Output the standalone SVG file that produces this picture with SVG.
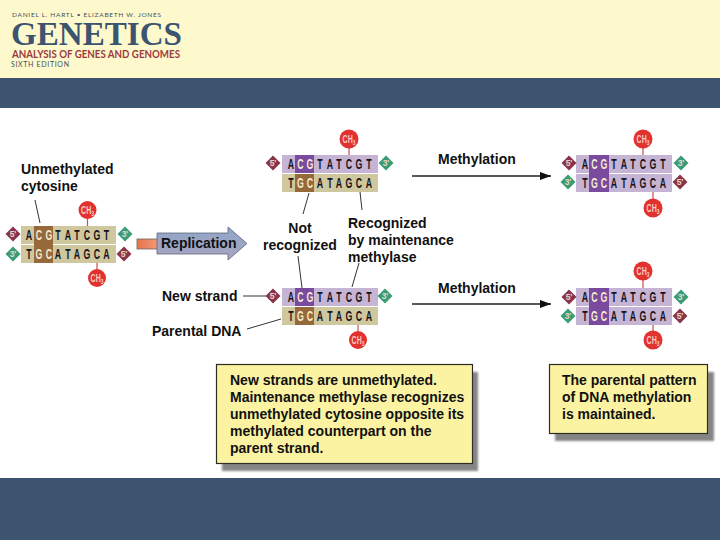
<svg xmlns="http://www.w3.org/2000/svg" width="720" height="540" viewBox="0 0 720 540">
<style>
.lb{font:bold 14px "Liberation Sans",Arial,sans-serif;fill:#111}
.bs{font:bold 14px "Liberation Sans",sans-serif;fill:#16131c;text-anchor:middle}
.hl{fill:#f4ead0}
.ch{font:bold 10px "Liberation Sans",sans-serif;fill:#f8cfc0;text-anchor:middle}
.ch .s{font-size:7px}
.pr{font:bold 8.5px "Liberation Sans",sans-serif;fill:#e8d8c8;text-anchor:middle}
.r{fill:#8a3349}.g{fill:#3a9c74}
.pu{fill:#c6b4d4}.pd{fill:#7a4a9e}.ta{fill:#cfc79e}.br{fill:#96693a}
.ln{stroke:#333;stroke-width:1;fill:none}
.cl{stroke:#c9504a;stroke-width:1.2;fill:none}
.red{fill:#e2322f}
.box{fill:#fbf3a2;stroke:#2c2c24;stroke-width:1.2}
.sh{fill:#858585;filter:url(#b)}
.hd{font-family:"Liberation Serif",serif}
.hs{font-family:Lato,"Liberation Sans",sans-serif}
</style>
<defs>
<filter id="b" x="-5%" y="-10%" width="110%" height="120%"><feGaussianBlur stdDeviation="1"/></filter>
<linearGradient id="rg" x1="0" y1="0" x2="0" y2="1"><stop offset="0" stop-color="#8fa6c8"/><stop offset="1" stop-color="#a9a4c0"/></linearGradient>
<linearGradient id="og" x1="0" y1="0" x2="1" y2="0"><stop offset="0" stop-color="#e8744c"/><stop offset="1" stop-color="#f09a78"/></linearGradient>
<marker id="ah" markerUnits="userSpaceOnUse" markerWidth="11" markerHeight="8" refX="11" refY="4" orient="auto"><path d="M0 0L11 4L0 8Z" fill="#111"/></marker>
<path id="d" d="M0-7.5L7.5 0L0 7.5L-7.5 0Z"/>
</defs>

<rect width="720" height="540" fill="#fff"/>
<g id="header">
<rect width="720" height="78" fill="#fdf9cc"/>
<rect y="78" width="720" height="30" fill="#3c5470"/>
<text class="hs" x="12" y="17" font-size="6.500" fill="#45505c" textLength="149">DANIEL L. HARTL • ELIZABETH W. JONES</text>
<text class="hd" x="11" y="45" font-size="33" font-weight="bold" fill="#3c5470" textLength="171" lengthAdjust="spacingAndGlyphs">GENETICS</text>
<text class="hs" x="12" y="57.500" font-size="10.500" font-weight="bold" fill="#9c3b3e" textLength="168" lengthAdjust="spacingAndGlyphs">ANALYSIS OF GENES AND GENOMES</text>
<text class="hs" x="11" y="66.500" font-size="7" fill="#45505c" textLength="58">SIXTH EDITION</text>
</g>
<rect id="footer" y="478" width="720" height="62" fill="#3c5470"/>

<g id="connectors">
<path class="ln" d="M35 200L40 223M309 193L303 214M360 192L362 210M298 256L302 288M359 263L352 287M243 296H266M247 329L281 319"/>
<path d="M412 176H551" stroke="#222" stroke-width="1.3" marker-end="url(#ah)"/>
<path d="M412 304H551" stroke="#222" stroke-width="1.3" marker-end="url(#ah)"/>
</g>

<g id="dna-unmethylated">
<rect class="ta" x="21" y="226" width="95" height="18"/><rect class="ta" x="21" y="245" width="95" height="18"/>
<rect class="br" x="34" y="226" width="19" height="37"/>
<path class="cl" d="M87.500 215V226M97 263V274"/>
<circle class="red" cx="87.500" cy="210" r="9"/><circle class="red" cx="97" cy="278" r="9"/>
<text class="ch" transform="translate(87.500 213.500) scale(.7 1)">CH<tspan class="s" dy="2">3</tspan></text>
<text class="ch" transform="translate(97 281.500) scale(.7 1)">CH<tspan class="s" dy="2">3</tspan></text>
<g transform="scale(.625 1)">
<text class="bs" x="46.400 62.400 78.400 92.800 108.800 123.200 139.200 155.200 170.400" y="240">A<tspan class="hl">CG</tspan>TATCGT</text>
<text class="bs" x="46.400 62.400 78.400 92.800 108.800 123.200 139.200 155.200 170.400" y="259">T<tspan class="hl">GC</tspan>ATAGCA</text>
</g>
<use href="#d" class="r" x="13" y="234"/><use href="#d" class="g" x="125" y="234"/><use href="#d" class="g" x="13" y="254"/><use href="#d" class="r" x="124" y="254"/>
<text class="pr" x="13" y="237">5'</text><text class="pr" x="125" y="237">3'</text><text class="pr" x="13" y="257">3'</text><text class="pr" x="124" y="257">5'</text>
</g>

<g id="replication">
<rect x="137" y="239" width="21" height="10" fill="url(#og)" stroke="#666" stroke-width=".8"/>
<path d="M157 233H228V227L247 243.500L228 260V254H157Z" fill="url(#rg)" stroke="#5b6478" stroke-width=".8"/>
<text class="lb" x="161" y="248">Replication</text>
</g>

<g id="dna-top">
<rect class="pu" x="282" y="155" width="96" height="18"/><rect class="ta" x="282" y="174" width="96" height="18"/>
<rect class="pd" x="295" y="155" width="19" height="18"/><rect class="br" x="295" y="174" width="19" height="18"/>
<path class="cl" d="M349 144V155"/><circle class="red" cx="349" cy="139" r="9.500"/>
<text class="ch" transform="translate(349 142.500) scale(.7 1)">CH<tspan class="s" dy="2">3</tspan></text>
<g transform="scale(.625 1)">
<text class="bs" x="465.600 480.800 496 512 528 542.400 558.400 574.400 590.400" y="169">A<tspan class="hl">CG</tspan>TATCGT</text>
<text class="bs" x="465.600 480.800 496 512 528 542.400 558.400 574.400 590.400" y="188">T<tspan class="hl">GC</tspan>ATAGCA</text>
</g>
<use href="#d" class="r" x="273" y="163"/><use href="#d" class="g" x="386" y="163"/>
<text class="pr" x="273" y="166">5'</text><text class="pr" x="386" y="166">3'</text>
</g>

<g id="dna-bottom">
<rect class="pu" x="282" y="288" width="96" height="18"/><rect class="ta" x="282" y="307" width="96" height="18"/>
<rect class="pd" x="295" y="288" width="19" height="18"/><rect class="br" x="295" y="307" width="19" height="18"/>
<path class="cl" d="M358 325V335"/><circle class="red" cx="358" cy="340" r="9"/>
<text class="ch" transform="translate(358 343.500) scale(.7 1)">CH<tspan class="s" dy="2">3</tspan></text>
<g transform="scale(.625 1)">
<text class="bs" x="465.600 480.800 496 512 528 542.400 558.400 574.400 590.400" y="302">A<tspan class="hl">CG</tspan>TATCGT</text>
<text class="bs" x="465.600 480.800 496 512 528 542.400 558.400 574.400 590.400" y="321">T<tspan class="hl">GC</tspan>ATAGCA</text>
</g>
<use href="#d" class="r" x="273" y="296"/><use href="#d" class="g" x="385" y="296"/>
<text class="pr" x="273" y="299">5'</text><text class="pr" x="385" y="299">3'</text>
</g>

<g id="dna-right-top">
<rect class="pu" x="576" y="155" width="96" height="18"/><rect class="pu" x="576" y="174" width="96" height="18"/>
<rect class="pd" x="589" y="155" width="20" height="37"/>
<path class="cl" d="M643 144V155M653 192V203"/><circle class="red" cx="643" cy="139" r="9.500"/><circle class="red" cx="653" cy="208" r="9.500"/>
<text class="ch" transform="translate(643 142.500) scale(.7 1)">CH<tspan class="s" dy="2">3</tspan></text><text class="ch" transform="translate(653 211.500) scale(.7 1)">CH<tspan class="s" dy="2">3</tspan></text>
<g transform="scale(.625 1)">
<text class="bs" x="936 951.200 966.400 982.400 998.400 1012.800 1028.800 1044.800 1060.800" y="169">A<tspan class="hl">CG</tspan>TATCGT</text>
<text class="bs" x="936 951.200 966.400 982.400 998.400 1012.800 1028.800 1044.800 1060.800" y="188">T<tspan class="hl">GC</tspan>ATAGCA</text>
</g>
<use href="#d" class="r" x="569" y="163"/><use href="#d" class="g" x="681" y="163"/><use href="#d" class="g" x="568" y="182"/><use href="#d" class="r" x="680" y="182"/>
<text class="pr" x="569" y="166">5'</text><text class="pr" x="681" y="166">3'</text><text class="pr" x="568" y="185">3'</text><text class="pr" x="680" y="185">5'</text>
</g>

<g id="dna-right-bottom">
<rect class="pu" x="576" y="288" width="96" height="18"/><rect class="pu" x="576" y="307" width="96" height="18"/>
<rect class="pd" x="589" y="288" width="20" height="37"/>
<path class="cl" d="M643 275V288M653 325V335"/><circle class="red" cx="643" cy="271" r="9.500"/><circle class="red" cx="653" cy="340" r="9.500"/>
<text class="ch" transform="translate(643 274.500) scale(.7 1)">CH<tspan class="s" dy="2">3</tspan></text><text class="ch" transform="translate(653 343.500) scale(.7 1)">CH<tspan class="s" dy="2">3</tspan></text>
<g transform="scale(.625 1)">
<text class="bs" x="936 951.200 966.400 982.400 998.400 1012.800 1028.800 1044.800 1060.800" y="302">A<tspan class="hl">CG</tspan>TATCGT</text>
<text class="bs" x="936 951.200 966.400 982.400 998.400 1012.800 1028.800 1044.800 1060.800" y="321">T<tspan class="hl">GC</tspan>ATAGCA</text>
</g>
<use href="#d" class="r" x="569" y="297"/><use href="#d" class="g" x="681" y="297"/><use href="#d" class="g" x="568" y="316"/><use href="#d" class="r" x="680" y="316"/>
<text class="pr" x="569" y="300">5'</text><text class="pr" x="681" y="300">3'</text><text class="pr" x="568" y="319">3'</text><text class="pr" x="680" y="319">5'</text>
</g>

<g id="labels">
<text class="lb" x="21" y="174">Unmethylated</text><text class="lb" x="21" y="191">cytosine</text>
<text class="lb" x="300" y="233" text-anchor="middle">Not</text><text class="lb" x="263" y="250">recognized</text>
<text class="lb" x="348" y="228">Recognized</text><text class="lb" x="348" y="245">by maintenance</text><text class="lb" x="348" y="262">methylase</text>
<text class="lb" x="162" y="301">New strand</text><text class="lb" x="152" y="336">Parental DNA</text>
<text class="lb" x="438" y="164">Methylation</text><text class="lb" x="438" y="293">Methylation</text>
</g>

<g id="note-left">
<rect class="sh" x="222" y="372" width="256" height="99"/>
<rect class="box" x="216.500" y="364.500" width="256" height="99"/>
<text class="lb" x="230" y="385">New strands are unmethylated.</text>
<text class="lb" x="230" y="402">Maintenance methylase recognizes</text>
<text class="lb" x="230" y="419">unmethylated cytosine opposite its</text>
<text class="lb" x="230" y="436">methylated counterpart on the</text>
<text class="lb" x="230" y="453">parent strand.</text>
</g>
<g id="note-right">
<rect class="sh" x="555" y="372" width="159" height="69"/>
<rect class="box" x="549.500" y="364.500" width="158" height="69"/>
<text class="lb" x="562" y="385">The parental pattern</text>
<text class="lb" x="562" y="402">of DNA methylation</text>
<text class="lb" x="562" y="419">is maintained.</text>
</g>
</svg>
